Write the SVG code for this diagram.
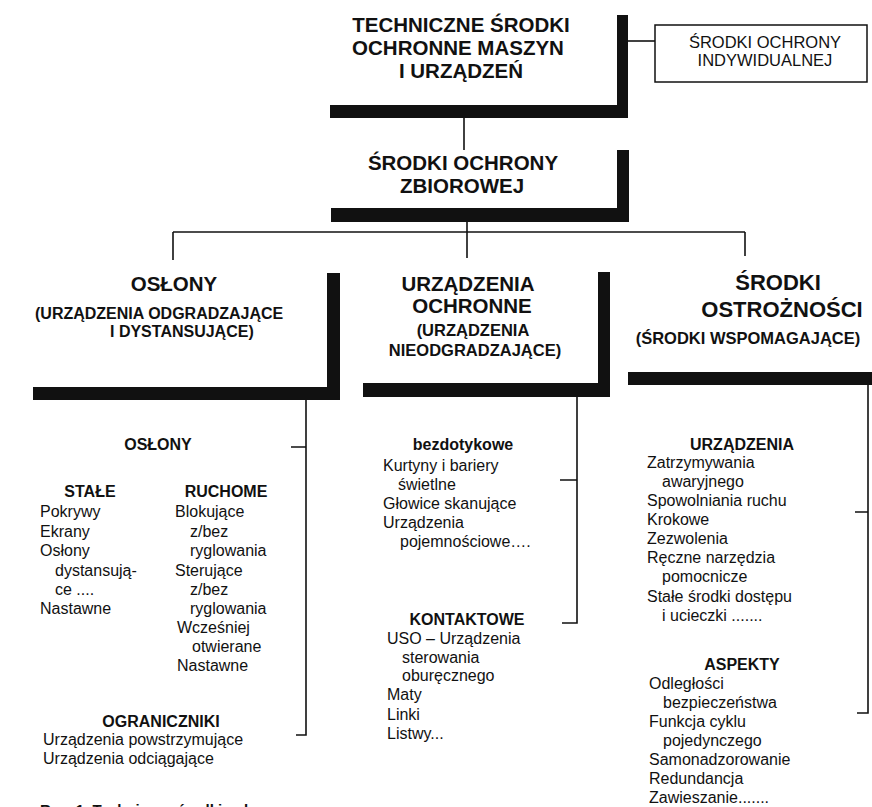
<svg xmlns="http://www.w3.org/2000/svg" width="872" height="807" viewBox="0 0 872 807">
<style>
text{font-family:"Liberation Sans",Arial,sans-serif;fill:#111}
.t{font-size:20.5px;font-weight:bold;text-anchor:middle}
.t2{font-size:22px;font-weight:bold;text-anchor:middle}
.s{font-size:16.5px;font-weight:bold}
.h{font-size:16px;font-weight:bold;text-anchor:middle}
.i{font-size:16px}
.bar{fill:#111}
.ln{stroke:#111;stroke-width:1.6;fill:none}
.bx{stroke:#111;stroke-width:1.5;fill:#fff}
</style>
<rect width="872" height="807" fill="#fff"/>
<g id="connectors">
<line class="ln" x1="628" y1="41" x2="655" y2="41"/>
<line class="ln" x1="464" y1="118" x2="464" y2="150"/>
<line class="ln" x1="467" y1="222" x2="467" y2="258"/>
<line class="ln" x1="173" y1="232" x2="745" y2="232"/>
<line class="ln" x1="173" y1="232" x2="173" y2="260"/>
<line class="ln" x1="745" y1="232" x2="745" y2="256"/>
<path class="ln" d="M291 447H306M306 400V735H296"/>
<path class="ln" d="M560 480H577M577 397V623H562"/>
<path class="ln" d="M855 512H868M868 385V713H857"/>
</g>
<g id="n-tech">
<rect class="bar" x="617" y="15" width="11" height="103"/>
<rect class="bar" x="330" y="105" width="298" height="13"/>
<text class="t" x="461" y="32">TECHNICZNE ŚRODKI</text>
<text class="t" x="458" y="55">OCHRONNE MASZYN</text>
<text class="t" x="461" y="78">I URZĄDZEŃ</text>
</g>
<g id="n-indyw">
<rect class="bx" x="655" y="25" width="212" height="57"/>
<text class="i" x="765" y="48" style="font-size:16.5px;text-anchor:middle">ŚRODKI OCHRONY</text>
<text class="i" x="765" y="66" style="font-size:16.5px;text-anchor:middle">INDYWIDUALNEJ</text>
</g>
<g id="n-zbior">
<rect class="bar" x="617" y="150" width="12" height="72"/>
<rect class="bar" x="331" y="208" width="298" height="14"/>
<text class="t" x="463" y="170">ŚRODKI OCHRONY</text>
<text class="t" x="462" y="193">ZBIOROWEJ</text>
</g>
<g id="n-oslony">
<rect class="bar" x="327" y="273" width="13" height="127"/>
<rect class="bar" x="33" y="387" width="307" height="13"/>
<text class="t" x="174" y="291">OSŁONY</text>
<text class="s" x="35" y="319" style="font-size:16px">(URZĄDZENIA ODGRADZAJĄCE</text>
<text class="s" x="110" y="337" style="font-size:16px">I DYSTANSUJĄCE)</text>
</g>
<g id="n-urzadzenia">
<rect class="bar" x="598" y="272" width="12" height="125"/>
<rect class="bar" x="363" y="383" width="247" height="14"/>
<text class="t" x="468" y="291">URZĄDZENIA</text>
<text class="t" x="472" y="313">OCHRONNE</text>
<text class="s" x="473" y="336" style="text-anchor:middle">(URZĄDZENIA</text>
<text class="s" x="475" y="356" style="text-anchor:middle">NIEODGRADZAJĄCE)</text>
</g>
<g id="n-ostroznosci">
<rect class="bar" x="628" y="372" width="244" height="13"/>
<text class="t2" x="778" y="290">ŚRODKI</text>
<text class="t2" x="782" y="317">OSTROŻNOŚCI</text>
<text class="s" x="748" y="344" style="text-anchor:middle">(ŚRODKI WSPOMAGAJĄCE)</text>
</g>
<g id="list-oslony">
<text class="h" x="158" y="450">OSŁONY</text>
<text class="h" x="90" y="497">STAŁE</text>
<text class="h" x="226" y="497">RUCHOME</text>
<text class="i" x="40" y="517">Pokrywy</text>
<text class="i" x="40" y="537">Ekrany</text>
<text class="i" x="40" y="556">Osłony</text>
<text class="i" x="55" y="576">dystansują-</text>
<text class="i" x="55" y="595">ce ....</text>
<text class="i" x="40" y="614">Nastawne</text>
<text class="i" x="175" y="517">Blokujące</text>
<text class="i" x="190" y="537">z/bez</text>
<text class="i" x="190" y="556">ryglowania</text>
<text class="i" x="175" y="576">Sterujące</text>
<text class="i" x="190" y="595">z/bez</text>
<text class="i" x="190" y="614">ryglowania</text>
<text class="i" x="177" y="633">Wcześniej</text>
<text class="i" x="192" y="652">otwierane</text>
<text class="i" x="177" y="671">Nastawne</text>
<text class="h" x="161" y="727">OGRANICZNIKI</text>
<text class="i" x="43" y="745">Urządzenia powstrzymujące</text>
<text class="i" x="43" y="764">Urządzenia odciągające</text>
</g>
<g id="list-urzadzenia">
<text class="h" x="463" y="450">bezdotykowe</text>
<text class="i" x="383" y="471">Kurtyny i bariery</text>
<text class="i" x="398" y="490">świetlne</text>
<text class="i" x="383" y="509">Głowice skanujące</text>
<text class="i" x="383" y="528">Urządzenia</text>
<text class="i" x="400" y="547">pojemnościowe….</text>
<text class="h" x="467" y="625">KONTAKTOWE</text>
<text class="i" x="387" y="644">USO – Urządzenia</text>
<text class="i" x="402" y="663">sterowania</text>
<text class="i" x="402" y="681">oburęcznego</text>
<text class="i" x="387" y="700">Maty</text>
<text class="i" x="387" y="720">Linki</text>
<text class="i" x="387" y="739">Listwy...</text>
</g>
<g id="list-ostroznosci">
<text class="h" x="742" y="450">URZĄDZENIA</text>
<text class="i" x="647" y="468">Zatrzymywania</text>
<text class="i" x="662" y="487">awaryjnego</text>
<text class="i" x="647" y="506">Spowolniania ruchu</text>
<text class="i" x="647" y="525">Krokowe</text>
<text class="i" x="647" y="544">Zezwolenia</text>
<text class="i" x="647" y="563">Ręczne narzędzia</text>
<text class="i" x="662" y="582">pomocnicze</text>
<text class="i" x="647" y="602">Stałe środki dostępu</text>
<text class="i" x="662" y="621">i ucieczki .......</text>
<text class="h" x="742" y="670">ASPEKTY</text>
<text class="i" x="649" y="689">Odległości</text>
<text class="i" x="663" y="708">bezpieczeństwa</text>
<text class="i" x="649" y="727">Funkcja cyklu</text>
<text class="i" x="663" y="746">pojedynczego</text>
<text class="i" x="649" y="765">Samonadzorowanie</text>
<text class="i" x="649" y="784">Redundancja</text>
<text class="i" x="649" y="803">Zawieszanie.......</text>
</g>
<text class="s" x="40" y="815" style="font-size:15px">Rys. 1. Techniczne środki ochronne</text>
</svg>
